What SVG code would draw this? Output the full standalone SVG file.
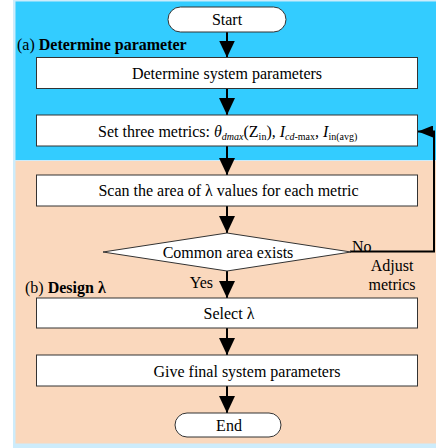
<svg xmlns="http://www.w3.org/2000/svg" width="436" height="448" viewBox="0 0 436 448">
<style>
text{font-family:"Liberation Serif","Times New Roman",serif;font-size:16px;fill:#000}
.c{text-anchor:middle}
.b{font-weight:bold}
.box{fill:#fff;stroke:#333;stroke-width:1}
.ln{fill:none;stroke:#000;stroke-width:2}
.it{font-style:italic}
.s{font-size:10px}
</style>
<defs>
<marker id="ah" markerUnits="userSpaceOnUse" markerWidth="17" markerHeight="16" refX="17" refY="8" orient="auto">
<path d="M0,0 L17,8 L0,16 Z" fill="#000"/>
</marker>
<marker id="ahs" markerUnits="userSpaceOnUse" markerWidth="15" markerHeight="12" refX="15" refY="6" orient="auto">
<path d="M0,0 L15,6 L0,12 Z" fill="#000"/>
</marker>
</defs>
<g id="background">
<rect x="13" y="0" width="423" height="448" fill="#cdecfb"/>
<rect x="15.5" y="1.5" width="420.5" height="158.5" fill="#33ccff"/>
<rect x="15.5" y="161" width="420.5" height="282.5" fill="#fad8bd"/>
</g>
<g id="labels">
<text x="17" y="50">(a) <tspan class="b">Determine parameter</tspan></text>
<text x="25" y="293">(b) <tspan class="b">Design λ</tspan></text>
</g>
<g id="connectors">
<line class="ln" x1="227" y1="32" x2="227" y2="57.5" marker-end="url(#ah)"/>
<line class="ln" x1="227" y1="88.5" x2="227" y2="115" marker-end="url(#ah)"/>
<line class="ln" x1="227" y1="146" x2="227" y2="175" marker-end="url(#ah)"/>
<line class="ln" x1="227" y1="206" x2="227" y2="233" marker-end="url(#ah)"/>
<line class="ln" x1="227" y1="271" x2="227" y2="298" marker-end="url(#ah)"/>
<line class="ln" x1="227" y1="328" x2="227" y2="355" marker-end="url(#ah)"/>
<line class="ln" x1="227" y1="386" x2="227" y2="413" marker-end="url(#ah)"/>
<path class="ln" d="M350,251.5 H434 V131.5 H418" marker-end="url(#ahs)"/>
<text x="213" y="288" text-anchor="end">Yes</text>
<text x="352" y="252">No</text>
<text x="392" y="271" class="c">Adjust</text>
<text x="392" y="290" class="c">metrics</text>
</g>
<g id="start">
<rect class="box" x="168" y="7" width="118" height="25" rx="12.5"/>
<text x="227" y="25" class="c">Start</text>
</g>
<g id="determine">
<rect class="box" x="36.5" y="57.5" width="381" height="31"/>
<text x="227" y="79" class="c">Determine system parameters</text>
</g>
<g id="metrics">
<rect class="box" x="36.5" y="115" width="381" height="31"/>
<text x="98" y="137">Set three metrics: <tspan class="it">θ</tspan><tspan class="it s" dy="3">dmax</tspan><tspan dy="-3">(Z</tspan><tspan class="s" dy="3">in</tspan><tspan dy="-3">), </tspan><tspan class="it">I</tspan><tspan class="it s" dy="3">cd</tspan><tspan class="s">-max</tspan><tspan dy="-3">, </tspan><tspan class="it">I</tspan><tspan class="s" dy="3">in(avg)</tspan></text>
</g>
<g id="scan">
<rect class="box" x="36.5" y="175" width="381" height="31"/>
<text x="228.5" y="196" class="c">Scan the area of λ values for each metric</text>
</g>
<g id="decision">
<polygon class="box" points="227,233 351,252 227,271 103,252"/>
<text x="228" y="258" class="c">Common area exists</text>
</g>
<g id="select">
<rect class="box" x="36.5" y="298" width="381" height="30"/>
<text x="229" y="319" class="c">Select λ</text>
</g>
<g id="give">
<rect class="box" x="36.5" y="355" width="381" height="31"/>
<text x="247" y="377" class="c">Give final system parameters</text>
</g>
<g id="end">
<rect class="box" x="175" y="413" width="106" height="24" rx="12"/>
<text x="229" y="431" class="c">End</text>
</g>
</svg>
